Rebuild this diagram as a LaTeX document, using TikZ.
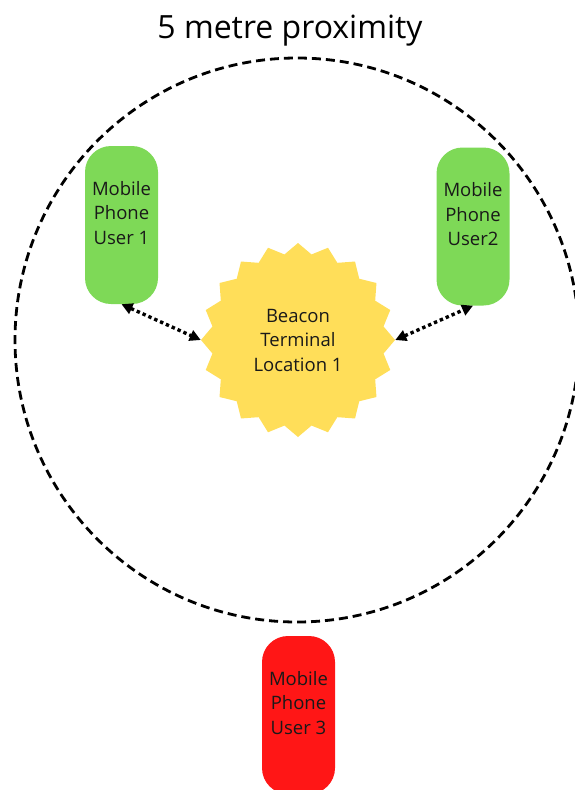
\documentclass[tikz,border=0pt]{standalone}
\usepackage{fontspec}
\setmainfont{Open Sans}
\usetikzlibrary{arrows.meta, positioning, shapes.geometric}
\definecolor{phoneGreen}{RGB}{126,217,87}
\definecolor{phoneRed}{RGB}{255,22,22}
\definecolor{beaconYellow}{RGB}{255,222,89}

\begin{document}
\begin{tikzpicture}[
    x=1pt,y=-1pt,
    phone/.style={rounded corners=26pt,minimum width=73pt,minimum height=158pt,inner sep=0pt},
    phonetext/.style={align=center,font=\fontsize{18.5}{24.5}\selectfont,text=black!90},
    beacon/.style={star,star points=20,star point ratio=1.12,minimum size=194pt,
      fill=beaconYellow,inner sep=0pt,align=center,text=black!90,
      font=\fontsize{18.5}{24.5}\selectfont},
    link/.style={{Triangle[length=11pt,width=11pt]}-{Triangle[length=11pt,width=11pt]},
      line width=3.4pt,dash pattern=on 3.4pt off 3pt},
    ring/.style={line width=2.8pt,dash pattern=on 9pt off 5pt}
  ]
  \useasboundingbox (0,0) rectangle (574,790);

  % proximity ring
  \node[font=\fontsize{32}{36}\selectfont] (title) at (290,31) {5 metre proximity};
  \draw[ring] (297,340) circle[radius=282];

  % beacon
  \node[beacon] (beacon) at (298,340) {Beacon\\Terminal\\Location 1};

  % phones
  \node[phone,fill=phoneGreen] (p1) at (121.5,225) {};
  \node[phonetext] at ([yshift=12pt]p1.center) {Mobile\\Phone\\User 1};

  \node[phone,fill=phoneGreen] (p2) at (473,226.5) {};
  \node[phonetext] at ([yshift=12pt]p2.center) {Mobile\\Phone\\User2};

  \node[phone,fill=phoneRed] (p3) at (298.5,715) {};
  \node[phonetext] at ([yshift=12pt]p3.center) {Mobile\\Phone\\User 3};

  % links
  \draw[link] (p1.south) -- (beacon.west);
  \draw[link] (beacon.east) -- (p2.south);
\end{tikzpicture}
\end{document}
